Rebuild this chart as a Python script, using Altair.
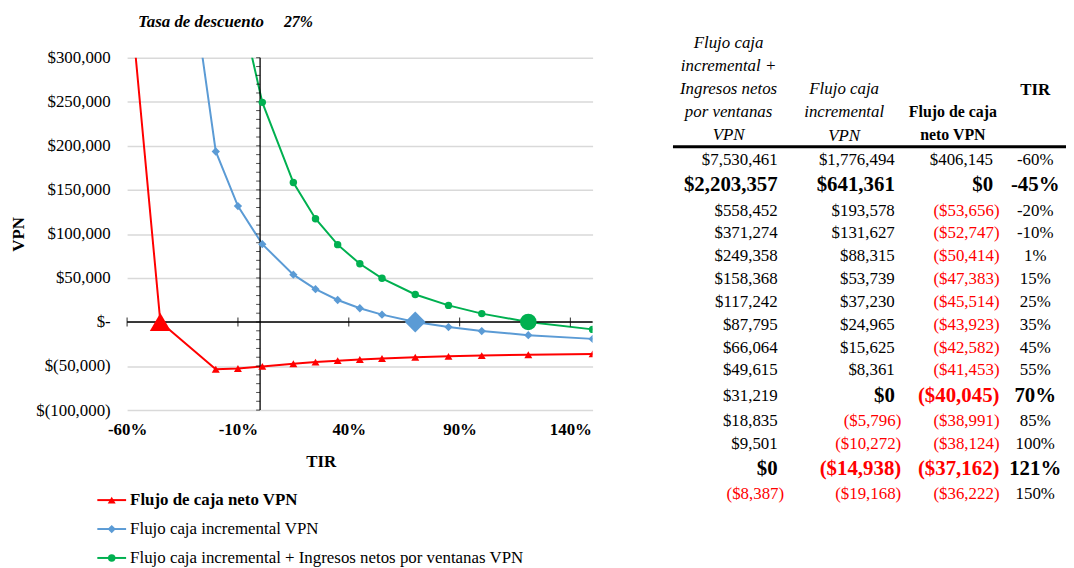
import altair as alt
import pandas as pd

FONT = "Liberation Serif, Tinos, 'Times New Roman', 'DejaVu Serif', serif"
RED = "#FF0000"

# ---------------- data ----------------
tir = [-60, -45, -20, -10, 1, 15, 25, 35, 45, 55, 70, 85, 100, 121, 150]
vpn_neto = [406145, 0, -53656, -52747, -50414, -47383, -45514, -43923, -42582,
            -41453, -40045, -38991, -38124, -37162, -36222]
vpn_incremental = [1776494, 641361, 193578, 131627, 88315, 53739, 37230, 24965,
                   15625, 8361, 0, -5796, -10272, -14938, -19168]
vpn_ingresos = [7530461, 2203357, 558452, 371274, 249358, 158368, 117242, 87795,
                66064, 49615, 31219, 18835, 9501, 0, -8387]

bold_ingresos = [False, True, False, False, False, False, False, False, False,
                 False, False, False, False, True, False]
bold_otros = [False, True, False, False, False, False, False, False, False,
              False, True, False, False, True, False]

series_names = ["Flujo de caja neto VPN",
                "Flujo caja incremental VPN",
                "Flujo caja incremental + Ingresos netos por ventanas VPN"]
series_colors = [RED, "#5B9BD5", "#00B050"]
series_shapes = ["triangle-up", "diamond", "circle"]
marker_small = [64, 70, 56]
marker_big = [450, 440, 280]

x_tick_values = [-60, -10, 40, 90, 140]
y_tick_values = [-100000, -50000, 0, 50000, 100000, 150000, 200000, 250000, 300000]

title_label = "Tasa de descuento"
title_rate = "27%"
header_ingresos = ["Flujo caja", "incremental +", "Ingresos netos", "por ventanas", "VPN"]
header_incremental = ["Flujo caja", "incremental", "VPN"]
header_neto = ["Flujo de caja", "neto VPN"]
header_tir = ["TIR"]

# ---------------- plot ----------------
rows = []
for i, (name, vals) in enumerate(zip(series_names, [vpn_neto, vpn_incremental, vpn_ingresos])):
    for t, v in zip(tir, vals):
        rows.append({"series": name, "sidx": i, "tir": t, "vpn": v})
plot_df = pd.DataFrame(rows)

x_scale = alt.Scale(domain=[-60, 150], nice=False, zero=False)
y_scale = alt.Scale(domain=[-100000, 300000], nice=False)

x_enc = alt.X("tir:Q", scale=x_scale, axis=alt.Axis(
    values=x_tick_values, labelExpr="datum.value + '%'", grid=False, domain=False,
    ticks=False, labelFont=FONT, labelFontSize=17, labelFontWeight="bold",
    labelColor="black", labelPadding=12, labelFlush=False, labelOverlap=False,
    title="TIR", titleFont=FONT, titleFontSize=17, titleFontWeight="bold",
    titleColor="black", titleX=195, titleY=52, titleBaseline="middle",
    titleAlign="center"))
y_enc = alt.Y("vpn:Q", scale=y_scale, axis=alt.Axis(
    values=y_tick_values,
    labelExpr="datum.value == 0 ? '$-' : (datum.value < 0 ? '$(' + format(-datum.value, ',') + ')' : '$' + format(datum.value, ','))",
    grid=True, gridColor="#D9D9D9", gridWidth=1.5, domain=False, ticks=False,
    labelFont=FONT, labelFontSize=17, labelColor="black", labelPadding=17,
    title="VPN", titleFont=FONT, titleFontSize=17, titleFontWeight="bold",
    titleColor="black", titleX=-109, titleY=177.5, titleBaseline="middle",
    titleAlign="center"))

color_enc = alt.Color("series:N", scale=alt.Scale(domain=series_names, range=series_colors), legend=None)
shape_enc = alt.Shape("series:N", scale=alt.Scale(domain=series_names, range=series_shapes), legend=None)
size_expr_small = f"{marker_small}[datum.sidx]"
size_expr = f"datum.vpn == 0 ? {marker_big}[datum.sidx] : {marker_small}[datum.sidx]"

zero_h = alt.Chart(pd.DataFrame({"v": [0]})).mark_rule(color="black", strokeWidth=1.3).encode(
    y=alt.Y("v:Q", scale=y_scale))
zero_v = alt.Chart(pd.DataFrame({"v": [0]})).mark_rule(color="black", strokeWidth=1.3).encode(
    x=alt.X("v:Q", scale=x_scale))
x_ticks_mark = alt.Chart(pd.DataFrame({"v": x_tick_values})).mark_tick(
    orient="vertical", size=9, thickness=1.2, color="black").encode(
    x=alt.X("v:Q", scale=x_scale), y=alt.datum(0))
y_ticks_mark = alt.Chart(alt.sequence(-100000, 300001, 10000, as_="v")).mark_tick(
    orient="horizontal", size=4, thickness=1, color="black", xOffset=-2).encode(
    y=alt.Y("v:Q", scale=y_scale), x=alt.datum(0))

lines = alt.Chart(plot_df).mark_line(strokeWidth=2, clip=True).encode(
    x=x_enc, y=y_enc, color=color_enc, order="tir:Q")
points = alt.Chart(plot_df).transform_calculate(sz=size_expr).mark_point(
    filled=True, opacity=1, clip=True).encode(
    x="tir:Q", y="vpn:Q", color=color_enc, shape=shape_enc,
    size=alt.Size("sz:Q", scale=None, legend=None))

plot = alt.layer(lines, zero_h, zero_v, x_ticks_mark, y_ticks_mark, points)

# ---------------- title ----------------
title_layers = [
    alt.Chart(pd.DataFrame({"t": [title_label]})).mark_text(
        align="left", baseline="middle", font=FONT, fontSize=17, fontWeight="bold",
        fontStyle="italic", color="black").encode(text="t:N", x=alt.value(11), y=alt.value(-36)),
    alt.Chart(pd.DataFrame({"t": [title_rate]})).mark_text(
        align="left", baseline="middle", font=FONT, fontSize=16, fontWeight="bold",
        fontStyle="italic", color="black").encode(text="t:N", x=alt.value(158), y=alt.value(-36)),
]

# ---------------- table ----------------
table_df = pd.DataFrame({
    "row": list(range(len(tir))), "tir": tir,
    "ingresos": vpn_ingresos, "incremental": vpn_incremental, "neto": vpn_neto,
    "b_ingresos": bold_ingresos, "b_incremental": bold_otros,
    "b_neto": bold_otros, "b_tir": bold_otros,
})
tbase = alt.Chart(table_df).transform_calculate(
    h="23 + (datum.b_tir ? 5 : 0)"
).transform_window(
    cum="sum(h)", sort=[alt.SortField("row")]
).transform_calculate(
    yc="datum.cum - datum.h / 2"
)
ty = alt.Y("yc:Q", scale=alt.Scale(domain=[0, 100], range=[91.5, 191.5]), axis=None)

table_layers = []
for field, bfield, edge in [("ingresos", "b_ingresos", 662),
                            ("incremental", "b_incremental", 780),
                            ("neto", "b_neto", 879)]:
    for bold in (False, True):
        for neg in (False, True):
            flt = f"{'' if bold else '!'}datum.{bfield} && datum.{field} {'<' if neg else '>='} 0"
            layer = tbase.transform_filter(flt).transform_calculate(
                txt=f"datum.{field} < 0 ? '($' + format(-datum.{field}, ',') + ')' : '$' + format(datum.{field}, ',')"
            ).mark_text(
                align="right", baseline="middle", font=FONT,
                fontSize=21 if bold else 17, fontWeight="bold" if bold else "normal",
                color=RED if neg else "black", dx=0 if neg else -6.5
            ).encode(x=alt.value(edge), y=ty, text="txt:N")
            table_layers.append(layer)
for bold in (False, True):
    layer = tbase.transform_filter(f"{'' if bold else '!'}datum.b_tir").transform_calculate(
        txt="datum.tir + '%'"
    ).mark_text(
        align="center", baseline="middle", font=FONT, fontSize=21 if bold else 17,
        fontWeight="bold" if bold else "normal", color="black"
    ).encode(x=alt.value(915), y=ty, text="txt:N")
    table_layers.append(layer)

for lines_list, xc, yc, style, weight, fs in [
        (header_ingresos, 606, -15.3, "italic", "normal", 17),
        (header_incremental, 722.5, 32, "italic", "normal", 17),
        (header_neto, 832, 54.7, "normal", "bold", 16),
        (header_tir, 915, 32.3, "normal", "bold", 17)]:
    table_layers.append(
        alt.Chart(pd.DataFrame({"t": ["\n".join(lines_list)]})).mark_text(
            align="center", baseline="middle", lineBreak="\n", lineHeight=23.2,
            font=FONT, fontSize=fs, fontStyle=style, fontWeight=weight, color="black"
        ).encode(text="t:N", x=alt.value(xc), y=alt.value(yc)))

table_layers.append(
    alt.Chart(pd.DataFrame({"a": [0]})).mark_rule(color="black", strokeWidth=3).encode(
        x=alt.value(550), x2=alt.value(946), y=alt.value(89.7)))

# ---------------- legend ----------------
leg_df = pd.DataFrame({"series": series_names, "sidx": [0, 1, 2]})
ly = alt.Y("series:N", scale=alt.Scale(type="point", domain=series_names,
                                        range=[445.7, 504], padding=0), axis=None)
legend_layers = [
    alt.Chart(leg_df).mark_rule(strokeWidth=2).encode(
        y=ly, x=alt.value(-30), x2=alt.value(-1), color=color_enc),
    alt.Chart(leg_df).transform_calculate(sz=size_expr_small).mark_point(
        filled=True, opacity=1).encode(
        y=ly, x=alt.value(-15.5), color=color_enc, shape=shape_enc,
        size=alt.Size("sz:Q", scale=None, legend=None)),
    alt.Chart(leg_df).transform_filter(f"datum.series == '{series_names[0]}'").mark_text(
        align="left", baseline="middle", font=FONT, fontSize=17, fontWeight="bold",
        color="black").encode(y=ly, x=alt.value(3), text="series:N"),
    alt.Chart(leg_df).transform_filter(f"datum.series != '{series_names[0]}'").mark_text(
        align="left", baseline="middle", font=FONT, fontSize=17, color="black").encode(
        y=ly, x=alt.value(3), text="series:N"),
]

chart = alt.layer(plot, *title_layers, *table_layers, *legend_layers).resolve_scale(
    y="independent"
).properties(
    width=469, height=355,
    autosize=alt.AutoSizeParams(type="none"),
    padding={"left": 120, "top": 48, "right": 477, "bottom": 157},
).configure_view(stroke=None)

chart.save("out.html", embed_options={"renderer": "svg", "actions": False})
